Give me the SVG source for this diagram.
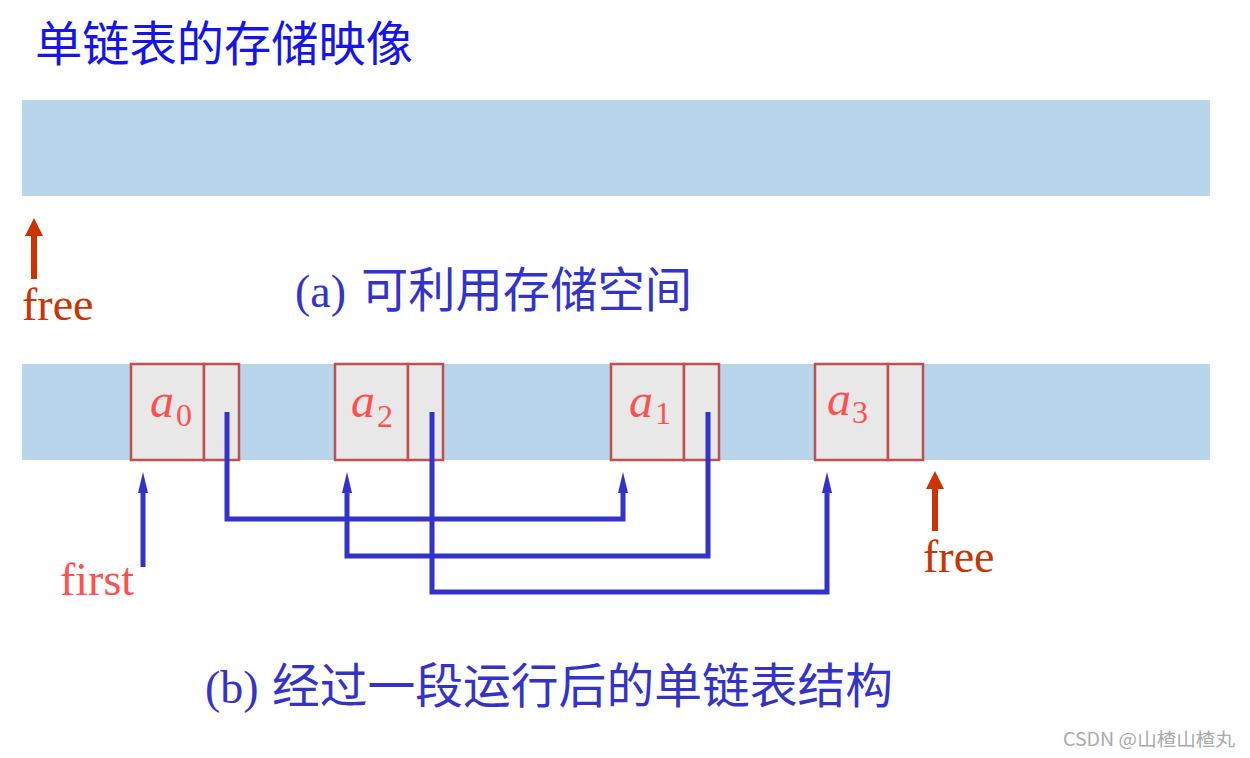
<svg xmlns="http://www.w3.org/2000/svg" width="1250" height="758" viewBox="0 0 1250 758">
<style>
.bar{fill:#B9D5EC}
.cell{fill:#E8E8E8;stroke:#C0504D;stroke-width:2.5}
.lab{font-family:"Liberation Serif",serif;fill:#FF5050}
.lab .a{font-style:italic;font-size:48px}
.lab .s{font-size:32px}
.conn{fill:none;stroke:#3333CC;stroke-width:5;stroke-linejoin:miter;stroke-linecap:butt}
.free{fill:none;stroke:#CC3300;stroke-width:6}
.serif{font-family:"Liberation Serif",serif}
.cjk{font-family:"Noto Sans CJK SC","Noto Sans",sans-serif}
</style>
<defs>
<marker id="blueHead" markerUnits="userSpaceOnUse" viewBox="0 0 21 10" markerWidth="21" markerHeight="10" refX="0" refY="5" orient="auto">
<path d="M0 0 L21 5 L0 10 Z" fill="#3333CC"/>
</marker>
<marker id="redHead" markerUnits="userSpaceOnUse" viewBox="0 0 18 18" markerWidth="18" markerHeight="18" refX="0" refY="9" orient="auto">
<path d="M0 0 L18 9 L0 18 Z" fill="#CC3300"/>
</marker>
</defs>
<rect width="1250" height="758" fill="#FFFFFF"/>
<text id="title" x="35" y="61" class="cjk" font-size="48" fill="#1414EE" textLength="378" lengthAdjust="spacingAndGlyphs">单链表的存储映像</text>
<rect id="bar-a" class="bar" x="22" y="100" width="1188" height="96"/>
<g id="free-a">
<path class="free" d="M34 279 V236" marker-end="url(#redHead)"/>
<text x="22" y="320" class="serif" font-size="46" fill="#CC3300">free</text>
</g>
<text id="caption-a" x="295" y="307" fill="#3333CC" font-size="48"><tspan class="serif" font-size="46">(a)</tspan><tspan class="cjk" x="361" textLength="331" lengthAdjust="spacingAndGlyphs">可利用存储空间</tspan></text>
<rect id="bar-b" class="bar" x="22" y="364" width="1188" height="96"/>
<g id="node-a0">
<rect class="cell" x="131" y="364" width="73" height="96"/>
<rect class="cell" x="204" y="364" width="35" height="96"/>
<text class="lab"><tspan class="a" x="150" y="417">a</tspan><tspan class="s" x="176" y="426">0</tspan></text>
</g>
<g id="node-a2">
<rect class="cell" x="335" y="364" width="73" height="96"/>
<rect class="cell" x="408" y="364" width="35" height="96"/>
<text class="lab"><tspan class="a" x="351" y="417">a</tspan><tspan class="s" x="377" y="427">2</tspan></text>
</g>
<g id="node-a1">
<rect class="cell" x="611" y="364" width="73" height="96"/>
<rect class="cell" x="684" y="364" width="35" height="96"/>
<text class="lab"><tspan class="a" x="629" y="417">a</tspan><tspan class="s" x="655" y="424">1</tspan></text>
</g>
<g id="node-a3">
<rect class="cell" x="815" y="364" width="73" height="96"/>
<rect class="cell" x="888" y="364" width="35" height="96"/>
<text class="lab"><tspan class="a" x="827" y="415">a</tspan><tspan class="s" x="852" y="423">3</tspan></text>
</g>
<g id="connectors">
<path class="conn" d="M227 412 V519 H623 V493" marker-end="url(#blueHead)"/>
<path class="conn" d="M708 412 V556 H347 V493" marker-end="url(#blueHead)"/>
<path class="conn" d="M432 412 V592 H827 V493" marker-end="url(#blueHead)"/>
<path class="conn" d="M143 567 V493" stroke-width="4.5" marker-end="url(#blueHead)"/>
<path class="free" d="M935 531 V489" marker-end="url(#redHead)"/>
</g>
<text id="first" x="60" y="595" class="serif" font-size="46" fill="#FF5050">first</text>
<text id="free-b" x="923" y="572" class="serif" font-size="46" fill="#CC3300">free</text>
<text id="caption-b" x="205" y="703" fill="#3333CC" font-size="48"><tspan class="serif" font-size="46">(b)</tspan><tspan class="cjk" x="272" textLength="621" lengthAdjust="spacingAndGlyphs">经过一段运行后的单链表结构</tspan></text>
<text id="watermark" x="1063" y="746" class="cjk" font-size="18" fill="#AAAAAA" textLength="172" lengthAdjust="spacingAndGlyphs">CSDN @山楂山楂丸</text>
</svg>
